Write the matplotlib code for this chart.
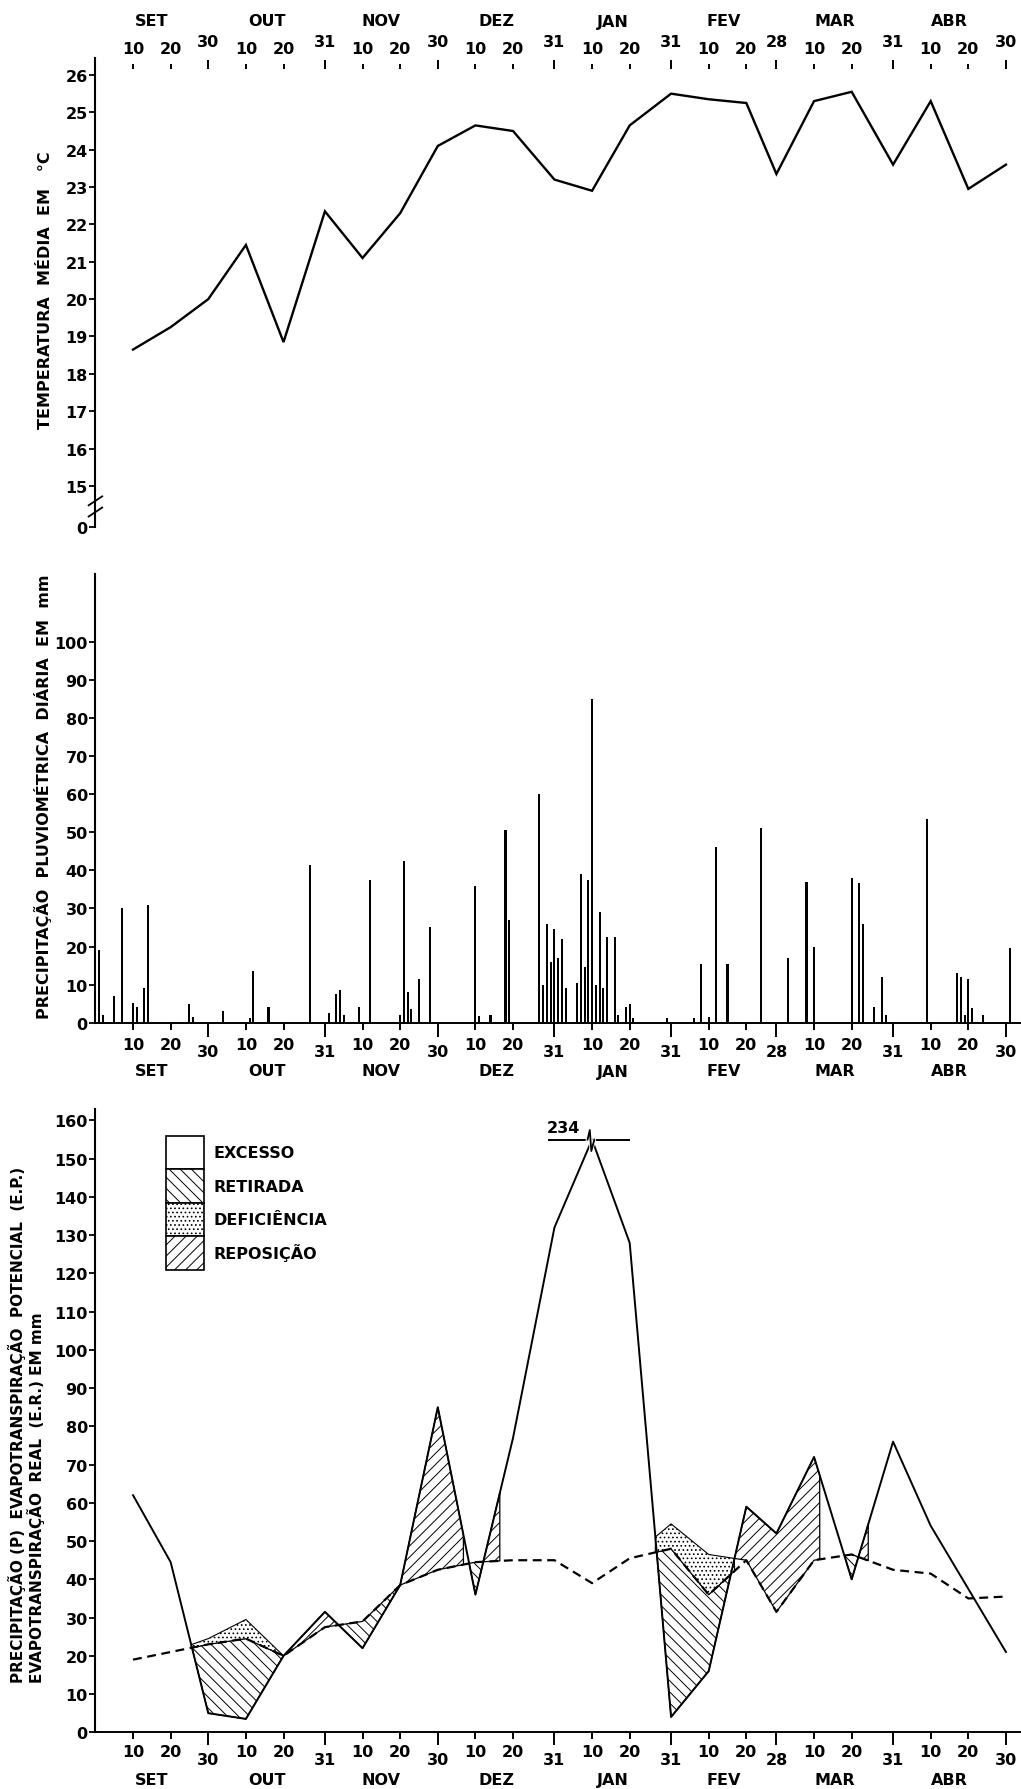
import numpy as np
import matplotlib
matplotlib.use('Agg')
import matplotlib.pyplot as plt
from matplotlib.patches import Patch
from matplotlib.transforms import blended_transform_factory

plt.rcParams['font.family'] = ['DejaVu Sans']
plt.rcParams['font.weight'] = 'bold'
plt.rcParams['hatch.linewidth'] = 0.7
plt.rcParams['hatch.color'] = 'black'

# ---------------- data ----------------
months = ['SET', 'OUT', 'NOV', 'DEZ', 'JAN', 'FEV', 'MAR', 'ABR']
month_days = [30, 31, 30, 31, 31, 28, 31, 30]

# end day of each dekad (day 1 = 1 Sep)
dekad_day = [10, 20, 30, 40, 50, 61, 71, 81, 91, 101, 111, 122,
             132, 142, 153, 163, 173, 181, 191, 201, 212, 222, 232, 242]

temperature = [18.65, 19.25, 20.0, 21.45, 18.85, 22.35, 21.1, 22.3, 24.1, 24.65, 24.5, 23.2,
               22.9, 24.65, 25.5, 25.35, 25.25, 23.35, 25.3, 25.55, 23.6, 25.3, 22.95, 23.6]

rain_day = [1, 2, 5, 7, 10, 11, 13, 14, 25, 26, 34, 41, 42, 46, 57, 62, 64, 65, 66, 70, 73,
            81, 82, 83, 84, 86, 89, 101, 102, 105, 109, 110, 118, 119, 120, 121, 122, 123,
            124, 125, 128, 129, 130, 131, 132, 133, 134, 135, 136, 138, 139, 141, 142, 143,
            152, 159, 161, 163, 165, 168, 177, 184, 189, 191, 201, 203, 204, 207, 209, 210,
            221, 229, 230, 231, 232, 233, 236, 243]
rain_mm = [19, 2, 7, 30, 5.3, 4, 9, 31, 5, 1.5, 3, 1.3, 13.7, 4.2, 41.5, 2.5, 7.5, 8.5, 2, 4, 37.5,
           2, 42.5, 8, 3.7, 11.5, 25, 36, 1.8, 2, 50.5, 27, 60, 10, 26, 16, 24.5, 17,
           22, 9, 10.5, 39, 14.5, 37.5, 85, 10, 29, 9, 22.5, 22.5, 2, 4, 5, 1.3,
           1.3, 1.3, 15.5, 1.6, 46, 15.5, 51, 17, 37, 20, 38, 36.7, 26, 4, 12, 2,
           53.5, 13, 12, 2, 11.6, 3.8, 2, 19.5]

precip_dekad = [62, 44.5, 5, 3.5, 20, 31.5, 22, 38.5, 85, 36, 77, 132,
                234, 128, 4, 16, 59, 52, 72, 40, 76, 54, 37.5, 21]
etp_dekad = [19, 21, 24.5, 29.5, 20, 27.5, 29, 38.5, 42.5, 44.5, 45, 45,
             39, 45.5, 54.5, 46.5, 45, 31.5, 45, 46.5, 42.5, 41.5, 35, 35.5]
etr_dekad = [19, 21, 23, 24.5, 20, 27.5, 29, 38.5, 42.5, 44.5, 45, 45,
             39, 45.5, 48, 36, 45, 31.5, 45, 46.5, 42.5, 41.5, 35, 35.5]

# periods (day ranges) of soil water replenishment
reposicao_periods = [(50, 66), (80, 97.8), (102, 107.5), (168, 192.5), (201, 205.4)]
P_CAP = 155          # off-scale value drawn at the top
P_CAP_LABEL = '234'

legend_labels = ['EXCESSO', 'RETIRADA', 'DEFICIÊNCIA', 'REPOSIÇÃO']

# ---------------- ticks ----------------
month_end = np.cumsum(month_days)
month_start = month_end - np.array(month_days)
month_mid = month_start + np.array(month_days) / 2.0
minor_pos = [s + 10 for s in month_start] + [s + 20 for s in month_start]
minor_lab = ['10'] * len(months) + ['20'] * len(months)
major_pos = list(month_end)
major_lab = [str(d) for d in month_days]

W, H = 1021, 1790
fig = plt.figure(figsize=(W / 100, H / 100), dpi=100)
LEFT = 95.4
XMAX = 246
FS = 11.5


def ax_at(top_px, bot_px):
    return fig.add_axes([LEFT / W, 1 - bot_px / H, 1 - LEFT / W, (bot_px - top_px) / H])


def month_names(ax, ypx):
    tr = blended_transform_factory(ax.transData, fig.transFigure)
    for m, x in zip(months, month_mid):
        ax.text(x, 1 - ypx / H, m, transform=tr, ha='center', va='center', fontsize=FS)


def setup_xticks(ax, top, maj_len, maj_pad, min_len, min_pad):
    ax.set_xticks(major_pos, major_lab)
    ax.set_xticks(minor_pos, minor_lab, minor=True)
    if top:
        ax.tick_params(axis='x', which='both', top=True, bottom=False,
                       labeltop=True, labelbottom=False)
    ax.tick_params(axis='x', which='major', direction='out', length=maj_len, width=1.4,
                   pad=maj_pad, labelsize=FS)
    ax.tick_params(axis='x', which='minor', direction='out', length=min_len, width=1.4,
                   pad=min_pad, labelsize=FS)


# ---------------- panel 1: temperature ----------------
ax1 = ax_at(70, 528)
ax1.plot(dekad_day, temperature, color='k', lw=1.7, solid_joinstyle='miter')
ax1.set_xlim(0, XMAX)
ax1.set_ylim(13.9, 26.16)
for s in ['top', 'right', 'bottom']:
    ax1.spines[s].set_visible(False)
ax1.spines['left'].set_linewidth(1.5)
ax1.spines['left'].set_bounds(13.9, 26.45)
yt = list(range(15, 27))
ax1.set_yticks(yt + [13.9], [str(v) for v in yt] + ['0'])
ax1.tick_params(axis='y', direction='out', length=4, width=1.3, labelsize=FS, pad=1.5)
setup_xticks(ax1, True, 6.5, 8.0, 3.6, 5.8)
month_names(ax1, 22)
for yb in (14.3, 14.6):
    ax1.plot([-1.8, 1.8], [yb - 0.12, yb + 0.12], color='k', lw=1.3, clip_on=False)
fig.text(45 / W, 1 - 290 / H, 'TEMPERATURA  MÉDIA  EM   °C', rotation=90,
         ha='center', va='center', fontsize=FS)

# ---------------- panel 2: daily precipitation ----------------
ax2 = ax_at(575, 1023.7)
ax2.bar(rain_day, rain_mm, width=0.55, color='k')
ax2.set_xlim(0, XMAX)
ax2.set_ylim(0, 117.8)
for s in ['top', 'right']:
    ax2.spines[s].set_visible(False)
ax2.spines['left'].set_linewidth(1.5)
ax2.spines['bottom'].set_linewidth(1.4)
ax2.set_yticks(range(0, 101, 10))
ax2.tick_params(axis='y', direction='out', length=4, width=1.3, labelsize=FS, pad=1.5)
setup_xticks(ax2, False, 10, 5.3, 4.8, 5.5)
month_names(ax2, 1072)
fig.text(43 / W, 1 - 797 / H, 'PRECIPITAÇÃO  PLUVIOMÉTRICA  DIÁRIA  EM  mm', rotation=90,
         ha='center', va='center', fontsize=FS)

# ---------------- panel 3: water balance ----------------
ax3 = ax_at(1110, 1733.3)
ax3.set_xlim(0, XMAX)
ax3.set_ylim(0, 163)
for s in ['top', 'right']:
    ax3.spines[s].set_visible(False)
ax3.spines['left'].set_linewidth(1.5)
ax3.spines['bottom'].set_linewidth(1.4)
ax3.set_yticks(range(0, 161, 10))
ax3.tick_params(axis='y', direction='out', length=4, width=1.3, labelsize=FS, pad=1.5)
setup_xticks(ax3, False, 9.6, 4.6, 4.8, 3.6)
month_names(ax3, 1781)

P_plot = np.minimum(np.array(precip_dekad, float), P_CAP)
xs = np.linspace(dekad_day[0], dekad_day[-1], 8000)
Pi = np.interp(xs, dekad_day, P_plot)
EPi = np.interp(xs, dekad_day, etp_dekad)
ERi = np.interp(xs, dekad_day, etr_dekad)

repo_mask = np.zeros_like(xs, dtype=bool)
for a, b in reposicao_periods:
    repo_mask |= (xs >= a) & (xs <= b)

H_RET, H_DEF, H_REP = '\\\\\\', '....', '///'
ax3.fill_between(xs, EPi, Pi, where=repo_mask & (Pi > EPi), interpolate=True,
                 facecolor='white', edgecolor='k', hatch=H_REP, lw=0.9, zorder=2)
ax3.fill_between(xs, Pi, ERi, where=(Pi < ERi) & (xs < dekad_day[-2]), interpolate=True,
                 facecolor='white', edgecolor='k', hatch=H_RET, lw=0.9, zorder=2)
ax3.fill_between(xs, ERi, EPi, where=(ERi < EPi - 0.05) & (Pi < EPi), interpolate=True,
                 facecolor='white', edgecolor='k', hatch=H_DEF, lw=0.8, zorder=2)

ax3.plot(dekad_day, P_plot, color='k', lw=1.4, zorder=4)
ax3.plot(dekad_day, etr_dekad, color='k', lw=1.6, ls=(0, (4, 2.5)), zorder=4)

# off-scale marker
i_max = int(np.argmax(precip_dekad))
ax3.hlines(P_CAP, dekad_day[i_max - 1] - 1.6, dekad_day[i_max + 1], color='k', lw=1.4, zorder=4)
xb = dekad_day[i_max]
ax3.plot([xb - 1.2, xb - 0.6, xb - 0.2, xb + 0.6], [P_CAP, P_CAP + 2.5, P_CAP - 3, P_CAP],
         color='w', lw=2.5, zorder=5)
ax3.plot([xb - 1.2, xb - 0.6, xb - 0.2, xb + 0.6], [P_CAP, P_CAP + 2.5, P_CAP - 3, P_CAP],
         color='k', lw=1.3, zorder=6)
ax3.text(xb - 7.5, P_CAP + 1.3, P_CAP_LABEL, ha='center', va='bottom', fontsize=FS)

handles = [Patch(facecolor='white', edgecolor='k', lw=1.2, label=legend_labels[0]),
           Patch(facecolor='white', edgecolor='k', lw=1.2, hatch=H_RET, label=legend_labels[1]),
           Patch(facecolor='white', edgecolor='k', lw=1.2, hatch=H_DEF, label=legend_labels[2]),
           Patch(facecolor='white', edgecolor='k', lw=1.2, hatch=H_REP, label=legend_labels[3])]
ax3.legend(handles=handles, loc='upper left', frameon=False, fontsize=FS,
           labelspacing=0.0, handleheight=2.85, handlelength=2.4, handletextpad=0.6,
           borderpad=0, borderaxespad=0,
           bbox_to_anchor=(165.7 / W, 1 - 1136.7 / H), bbox_transform=fig.transFigure)

fig.text(17 / W, 1 - 1683 / H, 'PRECIPITAÇÃO (P)  EVAPOTRANSPIRAÇÃO  POTENCIAL  (E.P.)',
         rotation=90, rotation_mode='anchor', ha='left', va='center', fontsize=11)
fig.text(36 / W, 1 - 1683 / H, 'EVAPOTRANSPIRAÇÃO  REAL  (E.R.) EM mm',
         rotation=90, rotation_mode='anchor', ha='left', va='center', fontsize=11)

fig.savefig('out.png', dpi=100, facecolor='white')
